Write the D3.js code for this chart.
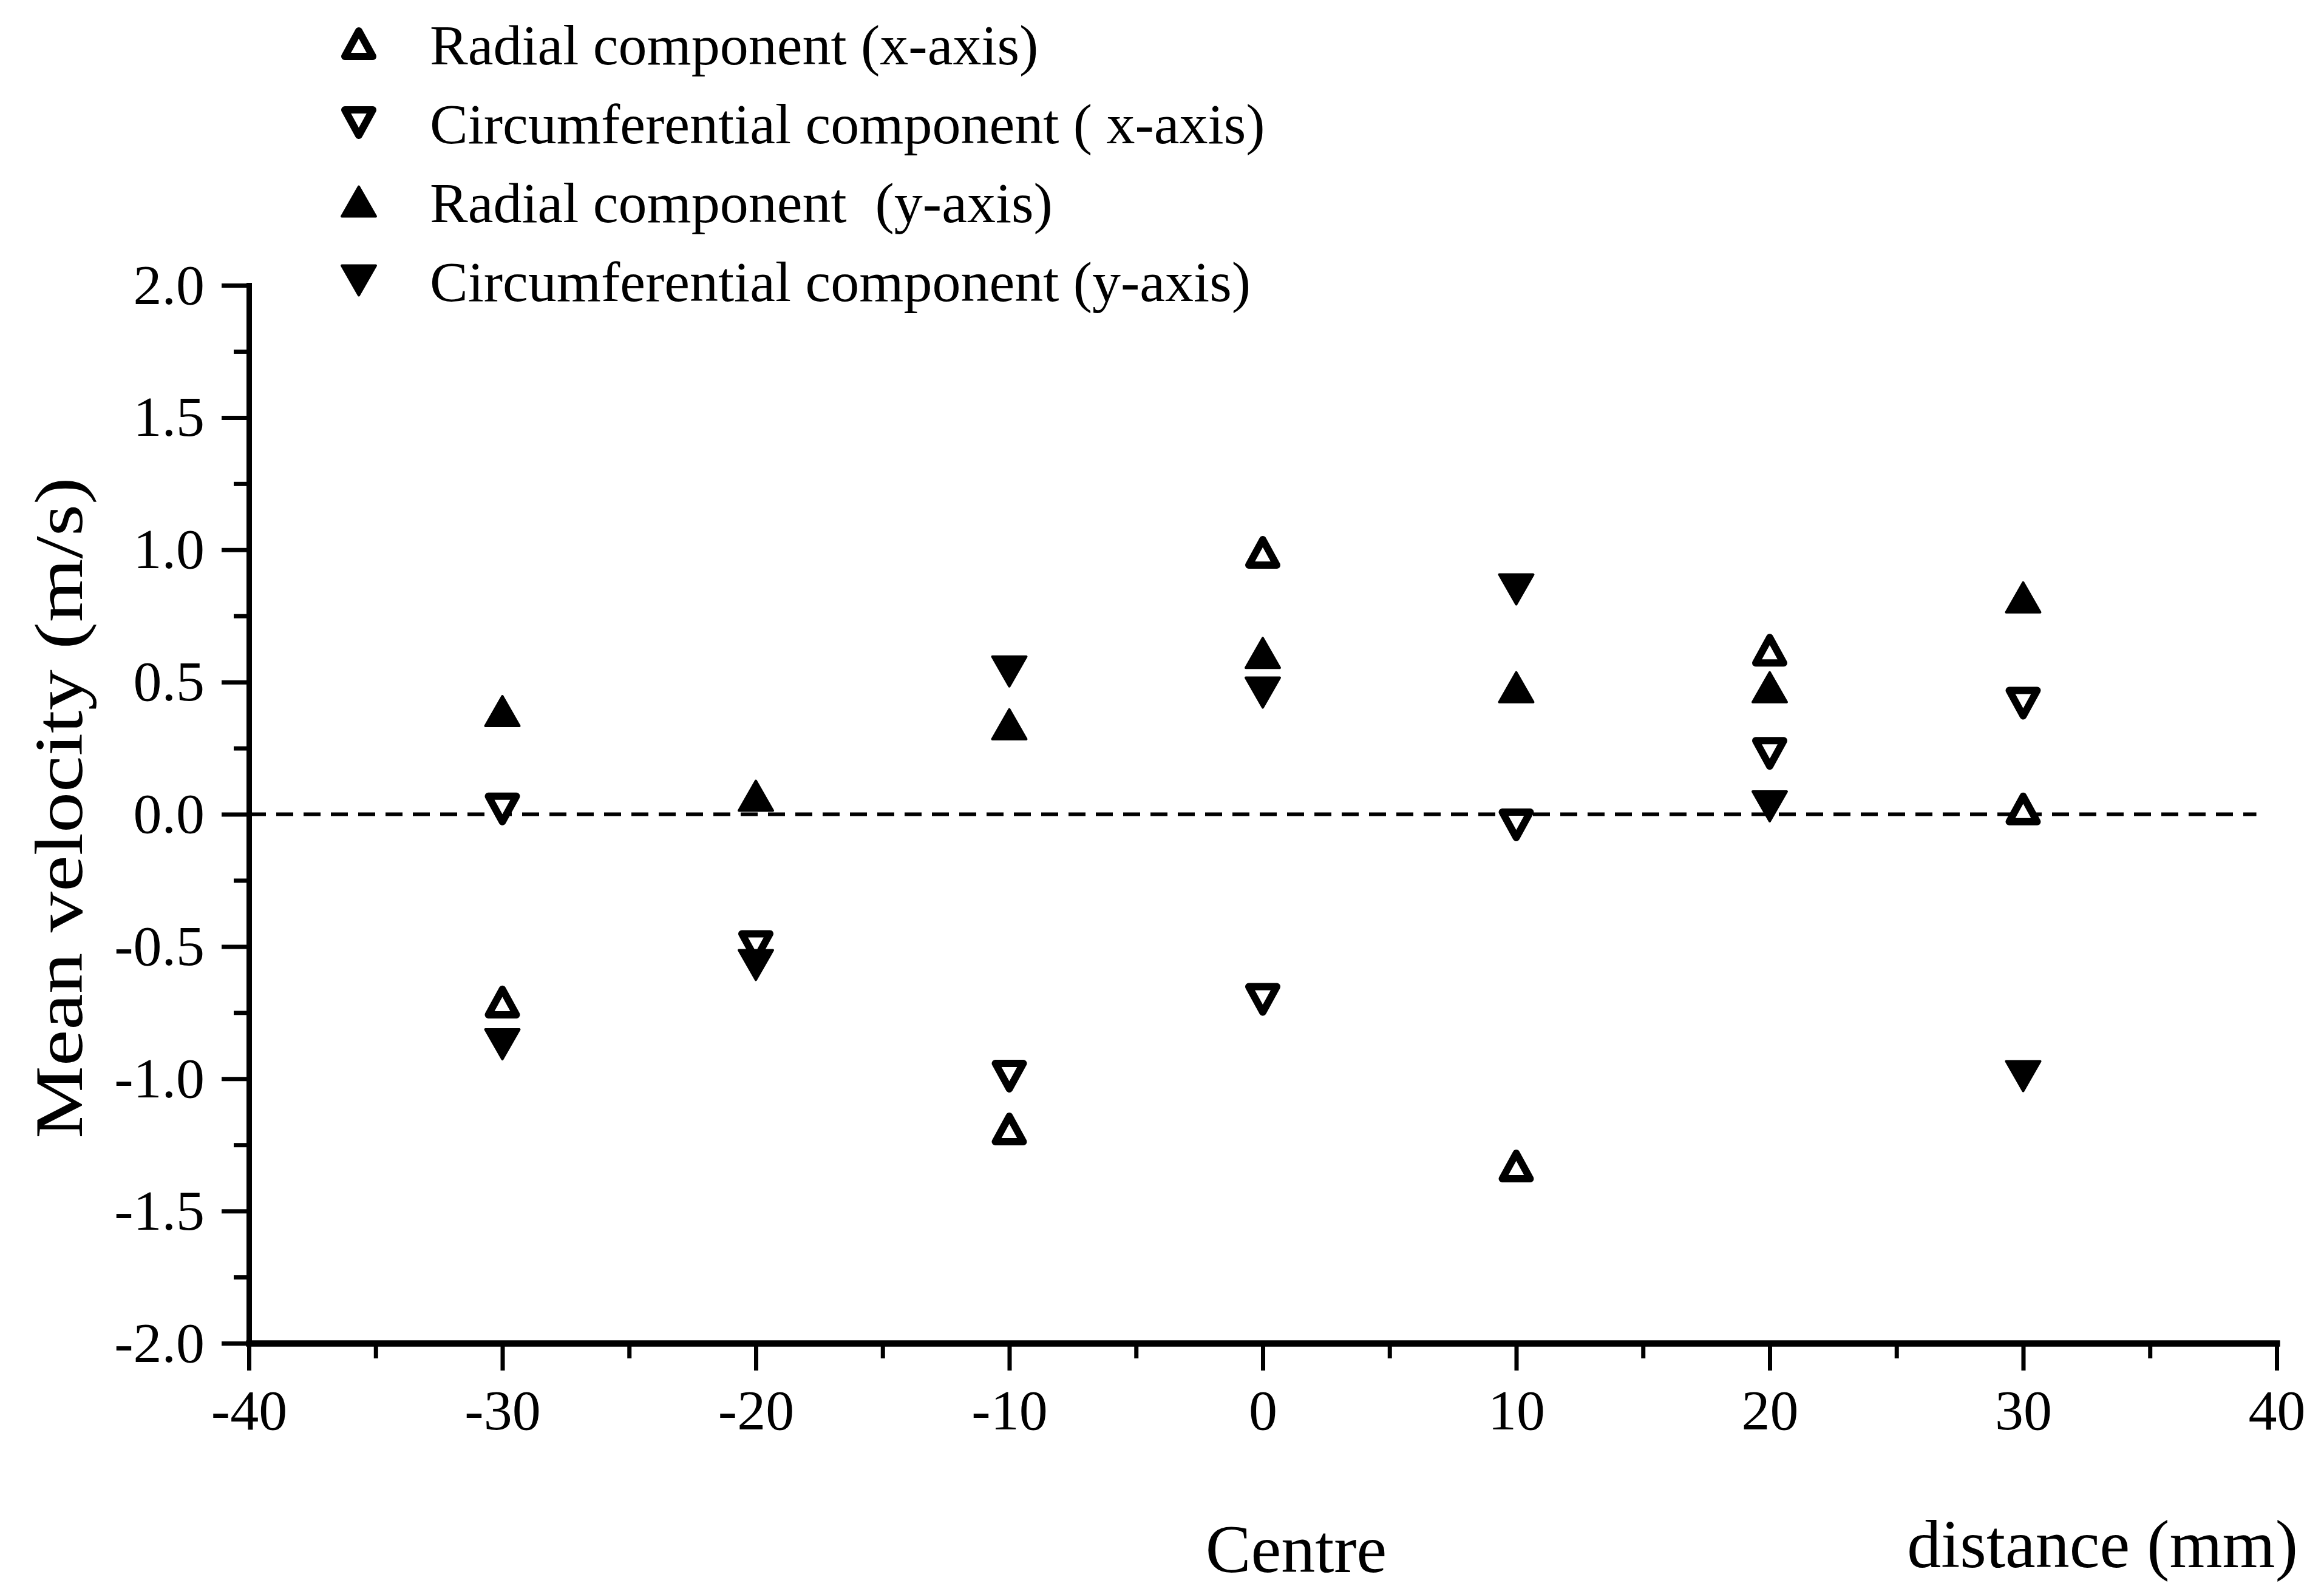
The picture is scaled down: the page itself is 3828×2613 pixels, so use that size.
<!DOCTYPE html>
<html>
<head>
<meta charset="utf-8">
<script src="https://cdn.jsdelivr.net/npm/d3@7"></script>
<style>
  html, body { margin: 0; padding: 0; background: #fff; }
  svg { display: block; }
</style>
</head>
<body>
<script>
// Positions along the traverse (mm)
const positions = [-30, -20, -10, 0, 10, 20, 30];

// Mean velocity (m/s) per component
const radialX = [-0.71, null, -1.19, 0.99, -1.33, 0.62, 0.02];
const circX = [0.02, -0.50, -0.99, -0.70, -0.04, 0.23, 0.42];
const radialY = [0.39, 0.07, 0.34, 0.61, 0.48, 0.48, 0.82];
const circY = [-0.87, -0.57, 0.54, 0.46, 0.85, 0.03, -0.99];

const legendLabels = [
  'Radial component (x-axis)',
  'Circumferential component ( x-axis)',
  'Radial component  (y-axis)',
  'Circumferential component (y-axis)',
];

// Ticks
const xTicks = [-40, -30, -20, -10, 0, 10, 20, 30, 40];
const xMinorTicks = [-35, -25, -15, -5, 5, 15, 25, 35];
const yTicks = [-2.0, -1.5, -1.0, -0.5, 0.0, 0.5, 1.0, 1.5, 2.0];
const yMinorTicks = [-1.75, -1.25, -0.75, -0.25, 0.25, 0.75, 1.25, 1.75];

const fullWidth = 3828;
const fullHeight = 2613;
const plotLeft = 410;
const plotRight = 3750;
const plotTop = 470;
const plotBottom = 2213;
const font = '"Liberation Serif", "Times New Roman", Times, serif';

const series = [
  { values: radialX, up: true, open: true },
  { values: circX, up: false, open: true },
  { values: radialY, up: true, open: false },
  { values: circY, up: false, open: false },
];

// Triangle centred on its bounding box
const triangle = (w, h, up) => {
  const s = up ? 1 : -1;
  return `M0,${-s * h / 2}L${w / 2},${s * h / 2}L${-w / 2},${s * h / 2}Z`;
};

const marker = (sel, d) => {
  if (d.open) {
    sel.attr('d', triangle(46, 42, d.up))
      .attr('fill', '#fff')
      .attr('stroke', '#000')
      .attr('stroke-width', 12)
      .attr('stroke-linejoin', 'round');
  } else {
    sel.attr('d', triangle(56, 49, d.up))
      .attr('fill', '#000')
      .attr('stroke', '#000')
      .attr('stroke-width', 4)
      .attr('stroke-linejoin', 'round');
  }
};

// Set scales
const xScale = d3.scaleLinear().domain([-40, 40]).range([plotLeft, plotRight]);
const yScale = d3.scaleLinear().domain([-2, 2]).range([plotBottom, plotTop]);

const svg = d3.select('body')
  .append('svg')
  .attr('width', fullWidth)
  .attr('height', fullHeight)
  .style('background', '#fff');

const styleAxis = (g, domainWidth) => {
  g.attr('font-family', font).attr('font-size', 94);
  g.select('.domain').attr('stroke-width', domainWidth).attr('stroke-linecap', 'square');
  g.selectAll('.tick line').attr('stroke-width', 7);
  g.selectAll('.tick text').attr('fill', '#000');
};

// Zero line
svg.append('line')
  .attr('x1', xScale(-40))
  .attr('x2', xScale(39.2))
  .attr('y1', yScale(0))
  .attr('y2', yScale(0))
  .attr('stroke', '#000')
  .attr('stroke-width', 6)
  .attr('stroke-dasharray', '28 17');

// X axis
svg.append('g')
  .attr('transform', `translate(0, ${plotBottom})`)
  .call(d3.axisBottom(xScale).tickValues(xMinorTicks).tickSize(25).tickFormat('').tickSizeOuter(0))
  .call(g => styleAxis(g, 10));

svg.append('g')
  .attr('transform', `translate(0, ${plotBottom})`)
  .call(d3.axisBottom(xScale).tickValues(xTicks).tickSize(45).tickPadding(30)
    .tickFormat(d => String(d)).tickSizeOuter(0))
  .call(g => styleAxis(g, 10));

// Y axis
svg.append('g')
  .attr('transform', `translate(${plotLeft}, 0)`)
  .call(d3.axisLeft(yScale).tickValues(yMinorTicks).tickSize(25).tickFormat('').tickSizeOuter(0))
  .call(g => styleAxis(g, 9));

svg.append('g')
  .attr('transform', `translate(${plotLeft}, 0)`)
  .call(d3.axisLeft(yScale).tickValues(yTicks).tickSize(45).tickPadding(28)
    .tickFormat(d => d.toFixed(1)).tickSizeOuter(0))
  .call(g => styleAxis(g, 9));

// Points
series.forEach((s) => {
  const pts = positions
    .map((x, i) => ({ x, v: s.values[i], up: s.up, open: s.open }))
    .filter(d => d.v !== null);
  svg.append('g')
    .selectAll('path')
    .data(pts)
    .enter()
    .append('path')
    .attr('transform', d => `translate(${xScale(d.x)}, ${yScale(d.v)})`)
    .each(function (d) { marker(d3.select(this), d); });
});

// Legend
const leg = svg.append('g').attr('font-family', font).attr('font-size', 94);
series.forEach((s, i) => {
  const cy = 72 + i * 130;
  leg.append('path')
    .attr('transform', `translate(591, ${cy})`)
    .call(sel => marker(sel, s));
  leg.append('text')
    .attr('x', 708)
    .attr('y', cy + 34)
    .style('white-space', 'pre')
    .text(legendLabels[i]);
});

// Axis titles (the y title is stretched along its length, as in the scan)
svg.append('text')
  .attr('transform', 'translate(135, 1331) rotate(-90) scale(1.2, 1)')
  .attr('text-anchor', 'middle')
  .attr('font-family', font)
  .attr('font-size', 112)
  .text('Mean velocity (m/s)');

svg.append('text')
  .attr('x', xScale(0) + 55)
  .attr('y', 2590)
  .attr('text-anchor', 'middle')
  .attr('font-family', font)
  .attr('font-size', 112)
  .text('Centre');

svg.append('text')
  .attr('x', plotRight + 35)
  .attr('y', 2582)
  .attr('text-anchor', 'end')
  .attr('font-family', font)
  .attr('font-size', 112)
  .text('distance (mm)');
</script>
</body>
</html>
